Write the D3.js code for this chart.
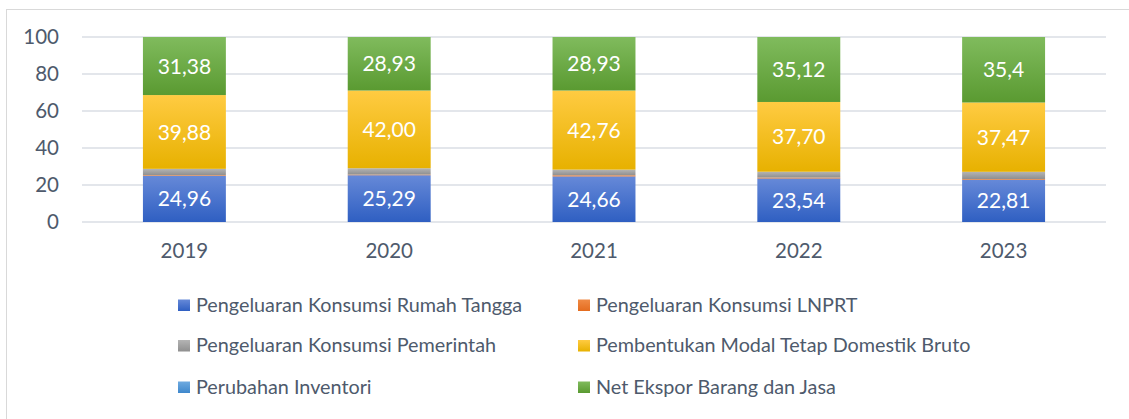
<!DOCTYPE html>
<html>
<head>
<meta charset="utf-8">
<script src="https://cdn.jsdelivr.net/npm/d3@7"></script>
<style>
  html, body { margin: 0; padding: 0; background: #ffffff; }
  svg { display: block; font-family: "Lato", "Open Sans", sans-serif; }
</style>
</head>
<body>
<svg id="chart" width="1129" height="419"></svg>
<script>
// Struktur PDRB menurut pengeluaran (persen), 2019–2023
const years = ["2019", "2020", "2021", "2022", "2023"];
const rumahTangga = ["24,96", "25,29", "24,66", "23,54", "22,81"];
const lnprt       = ["0,35", "0,35", "0,60", "0,50", "0,40"];
const pemerintah  = ["3,43", "3,43", "3,05", "3,14", "3,92"];
const pmtb        = ["39,88", "42,00", "42,76", "37,70", "37,47"];
const inventori   = ["0", "0", "0", "0", "0"];
const netEkspor   = ["31,38", "28,93", "28,93", "35,12", "35,4"];
const yTicks = [0, 20, 40, 60, 80, 100];

const num = s => parseFloat(s.replace(",", "."));

const series = [
  { key: "rt",  name: "Pengeluaran Konsumsi Rumah Tangga", values: rumahTangga, top: "#6689d8", bottom: "#2f5fc2", labelled: true },
  { key: "lnp", name: "Pengeluaran Konsumsi LNPRT", values: lnprt, top: "#f08a45", bottom: "#e46c1f", labelled: false },
  { key: "pem", name: "Pengeluaran Konsumsi Pemerintah", values: pemerintah, top: "#b4b4b4", bottom: "#8f8f8f", labelled: false },
  { key: "pmtb", name: "Pembentukan Modal Tetap Domestik Bruto", values: pmtb, top: "#ffcb42", bottom: "#e7b100", labelled: true },
  { key: "inv", name: "Perubahan Inventori", values: inventori, top: "#6eaae0", bottom: "#3f88cc", labelled: false },
  { key: "nx",  name: "Net Ekspor Barang dan Jasa", values: netEkspor, top: "#80bb5d", bottom: "#5a9a31", labelled: true }
];

const rows = years.map((y, i) => {
  const r = { year: y };
  series.forEach(s => { r[s.key] = num(s.values[i]); r[s.key + "_label"] = s.values[i]; });
  return r;
});

const svg = d3.select("#chart");

// frame around the chart area
svg.append("rect")
  .attr("x", 6.5).attr("y", 9.5)
  .attr("width", 1140).attr("height", 430)
  .attr("fill", "none").attr("stroke", "#d9d9d9").attr("stroke-width", 1);

// gradient fills per series
const defs = svg.append("defs");
series.forEach(s => {
  const g = defs.append("linearGradient")
    .attr("id", "grad-" + s.key)
    .attr("x1", 0).attr("y1", 0).attr("x2", 0).attr("y2", 1);
  g.append("stop").attr("offset", "0%").attr("stop-color", s.top);
  g.append("stop").attr("offset", "100%").attr("stop-color", s.bottom);
});

const plotLeft = 82, plotRight = 1106, plotTop = 37, plotBottom = 222;

const x = d3.scaleBand()
  .domain(years)
  .range([plotLeft, plotRight])
  .paddingInner(0.595)
  .paddingOuter(0.2975);

const y = d3.scaleLinear().domain([0, 100]).range([plotBottom, plotTop]);

// gridlines
svg.append("g")
  .selectAll("line")
  .data(yTicks)
  .join("line")
  .attr("x1", plotLeft).attr("x2", plotRight)
  .attr("y1", d => y(d)).attr("y2", d => y(d))
  .attr("stroke", "#dadee4").attr("stroke-width", 1.4);

// y axis labels
const yAxis = d3.axisLeft(y).tickValues(yTicks).tickSize(0).tickPadding(0);
svg.append("g")
  .attr("transform", `translate(59,0)`)
  .call(yAxis)
  .call(g => g.select(".domain").remove())
  .selectAll("text")
  .attr("fill", "#4e5a6c")
  .style("font-size", "20.5px")
  .style("font-family", "Lato, 'Open Sans', sans-serif");

// x axis labels
const xAxis = d3.axisBottom(x).tickSize(0).tickPadding(0);
svg.append("g")
  .attr("transform", `translate(0,${plotBottom + 21})`)
  .call(xAxis)
  .call(g => g.select(".domain").remove())
  .selectAll("text")
  .attr("fill", "#4e5a6c")
  .style("font-size", "20.5px")
  .style("font-family", "Lato, 'Open Sans', sans-serif");

// stacked bars
const stack = d3.stack().keys(series.map(s => s.key));
const stacked = stack(rows);

const layers = svg.append("g")
  .selectAll("g")
  .data(stacked)
  .join("g")
  .attr("fill", d => `url(#grad-${d.key})`);

layers.selectAll("rect")
  .data(d => d)
  .join("rect")
  .attr("x", d => x(d.data.year))
  .attr("width", x.bandwidth())
  .attr("y", d => y(d[1]))
  .attr("height", d => Math.max(0, y(d[0]) - y(d[1])));

// value labels
stacked.forEach((layer, li) => {
  const s = series[li];
  if (!s.labelled) return;
  svg.append("g")
    .selectAll("text")
    .data(layer)
    .join("text")
    .attr("x", d => x(d.data.year) + x.bandwidth() / 2)
    .attr("y", d => y((d[0] + d[1]) / 2))
    .attr("dy", "0.36em")
    .attr("text-anchor", "middle")
    .attr("fill", "#ffffff")
    .style("font-size", "21px")
    .text(d => d.data[s.key + "_label"]);
});

// legend: two columns, three rows
const legendCols = [178, 578];
const legendRows = [305, 345.5, 387];
const legend = svg.append("g")
  .selectAll("g")
  .data(series)
  .join("g")
  .attr("transform", (d, i) => `translate(${legendCols[i % 2]},${legendRows[Math.floor(i / 2)]})`);

legend.append("rect")
  .attr("x", 0).attr("y", -5.5)
  .attr("width", 12).attr("height", 11.5)
  .attr("fill", d => `url(#grad-${d.key})`);

legend.append("text")
  .attr("x", 18).attr("y", 0)
  .attr("dy", "0.35em")
  .attr("fill", "#4e5a6c")
  .style("font-size", "19.8px")
  .text(d => d.name);
</script>
</body>
</html>
